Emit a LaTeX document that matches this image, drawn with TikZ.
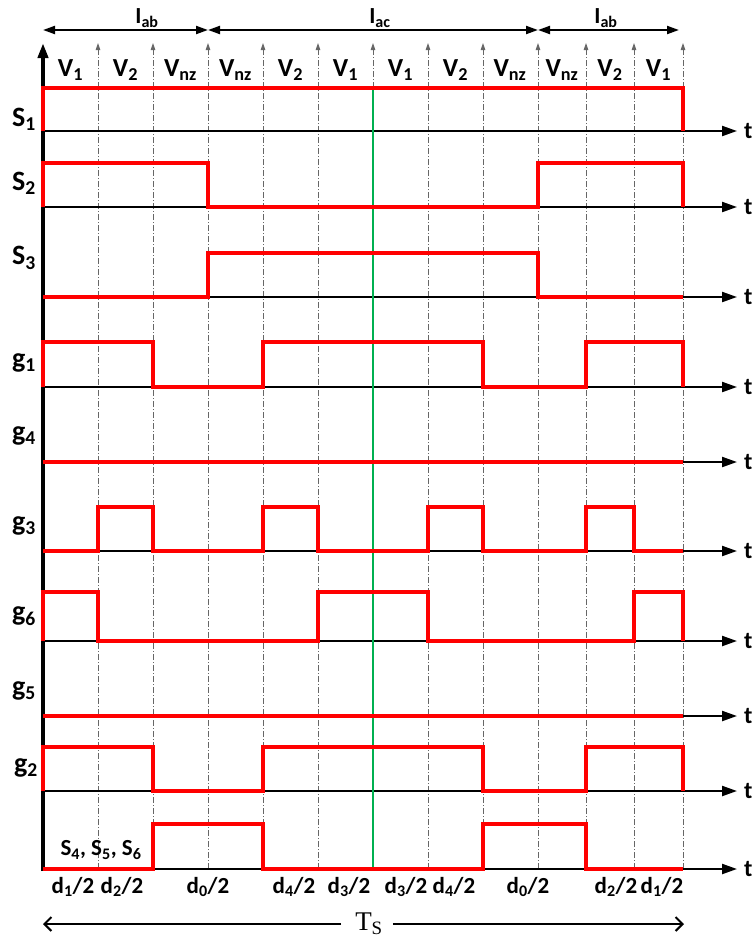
\documentclass[tikz,border=0pt]{standalone}
\usepackage{fontspec}
\setmainfont{Carlito}
\newfontfamily\timesfont{Liberation Serif}
\usetikzlibrary{arrows.meta}
\definecolor{midgreen}{RGB}{0,176,80}

\begin{document}
\begin{tikzpicture}[x=1pt,y=-1pt,
    sig/.style={red,line width=4pt,line join=miter},
    base/.style={black,line width=2.2pt,-{Triangle[length=15pt,width=10pt]}},
    grid/.style={black!60,line width=0.9pt,dash pattern=on 6pt off 2pt on 1pt off 2pt,-{Triangle[length=7pt,width=4.5pt]}},
    span/.style={black,line width=2pt,{Triangle[length=12pt,width=8pt]}-{Triangle[length=12pt,width=8pt]}},
    lbl/.style={font=\fontsize{28}{30}\selectfont\bfseries,inner sep=0pt},
    vlbl/.style={font=\fontsize{26}{28}\selectfont\bfseries,inner sep=0pt},
    dlbl/.style={font=\fontsize{23}{25}\selectfont\bfseries,inner sep=0pt},
    tlbl/.style={font=\fontsize{24}{25}\selectfont\bfseries,inner sep=0pt,anchor=west}]
  \useasboundingbox (0,0) rectangle (755,940);
  % grid lines of the switching instants
  \foreach \x in {98,153,208,263,318,373,428,483,538,586,634,683}
    \draw[grid] (\x,869) -- (\x,43);
  % time axes
  \foreach \b/\n in {131/s1,207/s2,297/s3,387/g1,462/g4,551/g3,641/g6,716/g5,791/g2,869/s4}{
    \draw[base] (43,\b) -- (737,\b);
    \node[tlbl] (t\n) at (744,\b) {t};
  }
  \draw[black,line width=4pt,-{Triangle[length=15pt,width=10pt]}] (43,871) -- (43,43);
  \draw[midgreen,line width=2.4pt] (373,88) -- (373,869);
  % switching signals
  \draw[sig] (43,131) -- (43,88) -- (683,88) -- (683,131);
  \draw[sig] (43,207) -- (43,163) -- (208,163) -- (208,207) -- (538,207) -- (538,163) -- (683,163) -- (683,207);
  \draw[sig] (43,297) -- (208,297) -- (208,253) -- (538,253) -- (538,297) -- (683,297);
  \draw[sig] (43,387) -- (43,342) -- (153,342) -- (153,387) -- (263,387) -- (263,342) -- (483,342) -- (483,387) -- (586,387) -- (586,342) -- (683,342) -- (683,387);
  \draw[sig] (43,462) -- (683,462);
  \draw[sig] (43,551) -- (98,551) -- (98,507) -- (153,507) -- (153,551) -- (263,551) -- (263,507) -- (318,507) -- (318,551) -- (428,551) -- (428,507) -- (483,507) -- (483,551) -- (586,551) -- (586,507) -- (634,507) -- (634,551) -- (683,551);
  \draw[sig] (43,641) -- (43,592) -- (98,592) -- (98,641) -- (318,641) -- (318,592) -- (428,592) -- (428,641) -- (634,641) -- (634,592) -- (683,592) -- (683,641);
  \draw[sig] (43,716) -- (683,716);
  \draw[sig] (43,791) -- (43,747) -- (153,747) -- (153,791) -- (263,791) -- (263,747) -- (483,747) -- (483,791) -- (586,791) -- (586,747) -- (683,747) -- (683,791);
  \draw[sig] (43,869) -- (153,869) -- (153,824) -- (263,824) -- (263,869) -- (483,869) -- (483,824) -- (586,824) -- (586,869) -- (683,869);
  % signal names
  \node[lbl] (ls1) at (24,119) {S\textsubscript{1}};
  \node[lbl] (ls2) at (24,183) {S\textsubscript{2}};
  \node[lbl] (ls3) at (24,258) {S\textsubscript{3}};
  \node[lbl] (lg1) at (24,363) {g\textsubscript{1}};
  \node[lbl] (lg4) at (24,436) {g\textsubscript{4}};
  \node[lbl] (lg3) at (24,526) {g\textsubscript{3}};
  \node[lbl] (lg6) at (24,616) {g\textsubscript{6}};
  \node[lbl] (lg5) at (24,691) {g\textsubscript{5}};
  \node[lbl] (lg2) at (26,768) {g\textsubscript{2}};
  \node[dlbl] (ls4) at (101,850) {S\textsubscript{4}, S\textsubscript{5}, S\textsubscript{6}};
  % current intervals
  \draw[span] (43,30) -- (208,30);
  \draw[span] (208,30) -- (538,30);
  \draw[span] (538,30) -- (679,30);
  \node[dlbl] (iab1) at (147,18) {I\textsubscript{ab}};
  \node[dlbl] (iac) at (380,18) {I\textsubscript{ac}};
  \node[dlbl] (iab2) at (606,18) {I\textsubscript{ab}};
  % voltage vectors
  \foreach \x/\v [count=\i] in {70.5/1,125.5/2,180.5/nz,235.5/nz,290.5/2,345.5/1,400.5/1,455.5/2,510/nz,562/nz,610/2,658.5/1}
    \node[vlbl] (v\i) at (\x,70) {V\textsubscript{\v}};
  % duty ratios
  \foreach \x/\d [count=\i] in {73/1,122/2,208/0,294/4,349/3,406/3,454/4,528/0,616/2,662/1}
    \node[dlbl] (d\i) at (\x,887) {d\textsubscript{\d}/2};
  % switching period
  \node[font=\timesfont\fontsize{27}{30}\selectfont,inner sep=0pt] (ts) at (369,924) {T\textsubscript{S}};
  \coordinate (tsl) at (43,924);
  \coordinate (tsr) at (684,924);
  \draw[line width=2pt,-{Straight Barb[length=7pt,width=14pt]}] (ts.west) ++(-14,0) -- (tsl);
  \draw[line width=2pt,-{Straight Barb[length=7pt,width=14pt]}] (ts.east) ++(10,0) -- (tsr);
\end{tikzpicture}
\end{document}
